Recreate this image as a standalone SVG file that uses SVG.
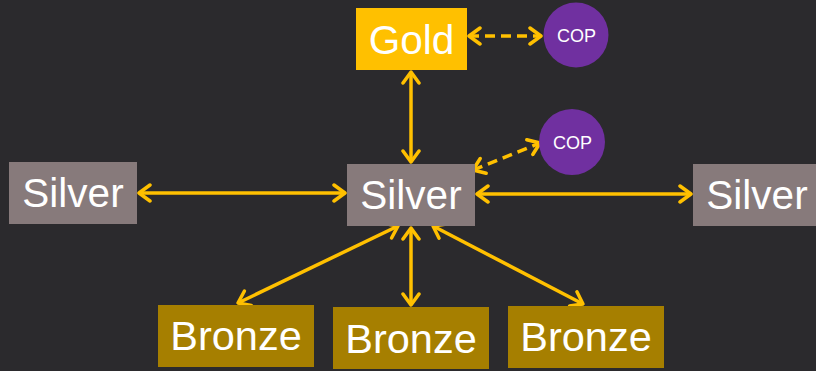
<svg xmlns="http://www.w3.org/2000/svg" width="816" height="371" viewBox="0 0 816 371">
  <defs>
    <marker id="head" viewBox="-14 -10 16 20" refX="0" refY="0" markerWidth="16" markerHeight="20" markerUnits="userSpaceOnUse" orient="auto-start-reverse">
      <path d="M-11,-8 L0,0 L-11,8" fill="none" stroke="#FFC000" stroke-width="3.5" stroke-linecap="round" stroke-linejoin="round"/>
    </marker>
  </defs>
  <style>
    .bg { fill: #2B2A2D; }
    .gold { fill: #FFC000; }
    .silver { fill: #877A7B; }
    .bronze { fill: #A67F00; }
    .cop { fill: #7030A0; }
    .lbl { font-family: "Liberation Sans", Arial, sans-serif; fill: #FFFFFF; text-anchor: middle; }
    .big { font-size: 40.5px; }
    .bz { font-size: 41.5px; }
    .small { font-size: 18px; }
    .link { stroke: #FFC000; stroke-width: 3.5; fill: none; marker-start: url(#head); marker-end: url(#head); }
    .dash { stroke-dasharray: 10 6; }
  </style>

  <rect class="bg" x="0" y="0" width="816" height="371"/>

  <g id="connectors">
    <line class="link" x1="411" y1="72" x2="411" y2="162"/>
    <line class="link dash" x1="469" y1="36" x2="541" y2="36"/>
    <line class="link dash" x1="473" y1="170" x2="540" y2="143"/>
    <line class="link" x1="139" y1="193" x2="345" y2="193"/>
    <line class="link" x1="477" y1="194" x2="691" y2="194"/>
    <line class="link" x1="398" y1="226" x2="238" y2="303"/>
    <line class="link" x1="411" y1="228" x2="411" y2="305"/>
    <line class="link" x1="433" y1="226" x2="583" y2="304"/>
  </g>

  <g id="gold">
    <rect class="gold" x="356" y="8" width="111" height="62"/>
    <text class="lbl big" x="411.5" y="54">Gold</text>
  </g>

  <g id="cop-gold">
    <circle class="cop" cx="576" cy="35" r="32.5"/>
    <text class="lbl small" x="576.5" y="41.5">COP</text>
  </g>

  <g id="cop-silver">
    <circle class="cop" cx="572" cy="142" r="33"/>
    <text class="lbl small" x="572.5" y="148.5">COP</text>
  </g>

  <g id="silver-center">
    <rect class="silver" x="347" y="164" width="128" height="62"/>
    <text class="lbl big" x="411" y="209">Silver</text>
  </g>

  <g id="silver-left">
    <rect class="silver" x="9" y="162" width="128" height="62"/>
    <text class="lbl big" x="73" y="207">Silver</text>
  </g>

  <g id="silver-right">
    <rect class="silver" x="693" y="164" width="128" height="62"/>
    <text class="lbl big" x="757" y="209">Silver</text>
  </g>

  <g id="bronze-left">
    <rect class="bronze" x="158" y="305" width="156" height="62"/>
    <text class="lbl bz" x="236" y="350">Bronze</text>
  </g>

  <g id="bronze-middle">
    <rect class="bronze" x="333" y="307" width="156" height="62"/>
    <text class="lbl bz" x="411" y="352.5">Bronze</text>
  </g>

  <g id="bronze-right">
    <rect class="bronze" x="508" y="306" width="156" height="62"/>
    <text class="lbl bz" x="586" y="351">Bronze</text>
  </g>
</svg>
